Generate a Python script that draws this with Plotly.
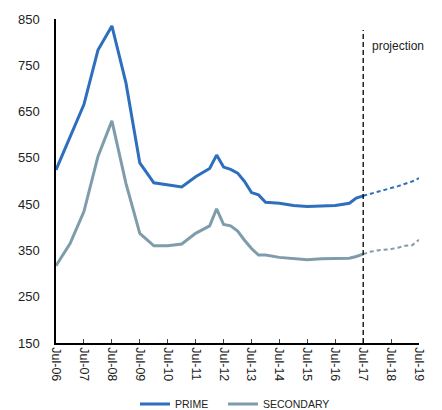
import plotly.graph_objects as go

hist_dates = ["2006-07-01", "2007-01-01", "2007-07-01", "2008-01-01", "2008-07-01",
              "2009-01-01", "2009-07-01", "2010-01-01", "2010-07-01", "2011-01-01",
              "2011-07-01", "2012-01-01", "2012-04-01", "2012-07-01", "2012-10-01",
              "2013-01-01", "2013-04-01", "2013-07-01", "2013-10-01", "2014-01-01",
              "2014-07-01", "2015-01-01", "2015-07-01", "2016-01-01", "2016-07-01",
              "2017-01-01", "2017-04-01", "2017-07-01"]
prime = [524, 595, 665, 783, 835, 712, 539, 496, 491, 487,
         509, 527, 556, 530, 525, 517, 499, 475, 470, 454,
         452, 447, 445, 446, 447, 452, 463, 468]
secondary = [317, 365, 434, 553, 630, 495, 387, 360, 360, 364,
             387, 403, 440, 406, 403, 392, 372, 354, 340, 340,
             335, 333, 330, 332, 333, 333, 337, 342]

proj_dates = ["2017-07-01", "2017-10-01", "2018-01-01", "2018-04-01", "2018-07-01",
              "2018-10-01", "2019-01-01", "2019-04-01", "2019-07-01"]
prime_proj = [468, 472, 476, 481, 485, 489, 494, 499, 506]
secondary_proj = [342, 347, 350, 351, 353, 356, 360, 361, 373]

tick_vals = ["2006-07-01", "2007-07-01", "2008-07-01", "2009-07-01", "2010-07-01",
             "2011-07-01", "2012-07-01", "2013-07-01", "2014-07-01", "2015-07-01",
             "2016-07-01", "2017-07-01", "2018-07-01", "2019-07-01"]
tick_text = ["Jul-06", "Jul-07", "Jul-08", "Jul-09", "Jul-10", "Jul-11", "Jul-12",
             "Jul-13", "Jul-14", "Jul-15", "Jul-16", "Jul-17", "Jul-18", "Jul-19"]
y_ticks = [150, 250, 350, 450, 550, 650, 750, 850]

PRIME_C = "#2e6fbd"
SEC_C = "#7f9cab"
FONT = "Liberation Sans, Arial, Helvetica, sans-serif"

fig = go.Figure()
fig.add_trace(go.Scatter(x=hist_dates, y=prime, mode="lines", name="PRIME",
                         line=dict(color=PRIME_C, width=3), legend="legend"))
fig.add_trace(go.Scatter(x=hist_dates, y=secondary, mode="lines", name="SECONDARY",
                         line=dict(color=SEC_C, width=3), legend="legend2"))
fig.add_trace(go.Scatter(x=proj_dates, y=prime_proj, mode="lines", showlegend=False,
                         line=dict(color=PRIME_C, width=2, dash="4px,3px")))
fig.add_trace(go.Scatter(x=proj_dates, y=secondary_proj, mode="lines", showlegend=False,
                         line=dict(color=SEC_C, width=2, dash="4px,3px")))

fig.add_shape(type="line", xref="x", yref="y", x0="2017-07-01", x1="2017-07-01",
              y0=150, y1=826, line=dict(color="black", width=1.3, dash="5px,3px"))
fig.add_annotation(x="2017-07-01", y=792, xref="x", yref="y", text="projection",
                   showarrow=False, xanchor="left", xshift=7,
                   font=dict(size=12, color="#222", family=FONT))

legend_common = dict(orientation="h", xref="container", yref="container",
                     xanchor="left", y=0.015, yanchor="middle",
                     font=dict(size=10.5, color="#222"), bgcolor="rgba(0,0,0,0)")

fig.update_layout(
    width=434, height=402,
    margin=dict(l=48, r=23, t=11, b=67, autoexpand=False),
    paper_bgcolor="white", plot_bgcolor="white",
    font=dict(family=FONT, color="#222"),
    showlegend=True,
    legend=dict(x=0.2926, **legend_common),
    legend2=dict(x=0.4954, **legend_common),
    xaxis=dict(type="date", range=["2006-07-01", "2019-07-01"], showgrid=False,
               zeroline=False, showline=True, linecolor="black", linewidth=1.5,
               tickvals=tick_vals, ticktext=tick_text, tickangle=90,
               ticks="inside", ticklen=4, tickcolor="#444", automargin=False,
               tickfont=dict(size=12.5, color="#222")),
    yaxis=dict(range=[150, 850], showgrid=False, zeroline=False, showline=True,
               linecolor="black", linewidth=1.5, tickvals=y_ticks, automargin=False,
               ticks="", ticklabelstandoff=12,
               tickfont=dict(size=13, color="#222")),
)

fig.write_html("out.html")
